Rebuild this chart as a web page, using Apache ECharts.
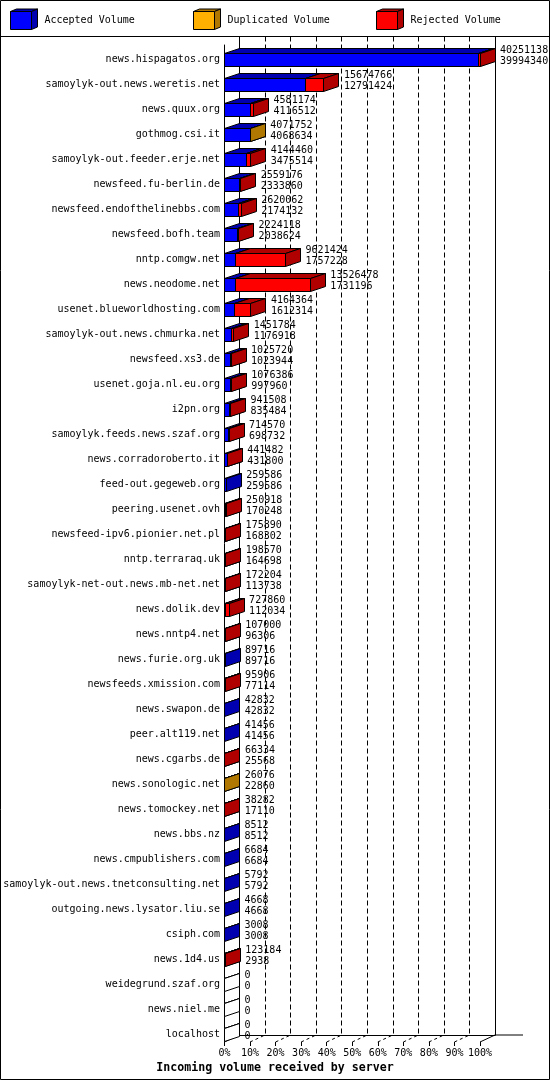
<!DOCTYPE html>
<html><head><meta charset="utf-8">
<script src="https://cdn.jsdelivr.net/npm/echarts@6/dist/echarts.min.js"></script>
<style>html,body{margin:0;padding:0;background:#fff}#c{width:550px;height:1080px}</style>
</head><body><div id="c"></div>
<script>
const servers = [
  'news.hispagatos.org','samoylyk-out.news.weretis.net','news.quux.org','gothmog.csi.it',
  'samoylyk-out.feeder.erje.net','newsfeed.fu-berlin.de','newsfeed.endofthelinebbs.com','newsfeed.bofh.team',
  'nntp.comgw.net','news.neodome.net','usenet.blueworldhosting.com','samoylyk-out.news.chmurka.net',
  'newsfeed.xs3.de','usenet.goja.nl.eu.org','i2pn.org','samoylyk.feeds.news.szaf.org',
  'news.corradoroberto.it','feed-out.gegeweb.org','peering.usenet.ovh','newsfeed-ipv6.pionier.net.pl',
  'nntp.terraraq.uk','samoylyk-net-out.news.mb-net.net','news.dolik.dev','news.nntp4.net',
  'news.furie.org.uk','newsfeeds.xmission.com','news.swapon.de','peer.alt119.net',
  'news.cgarbs.de','news.sonologic.net','news.tomockey.net','news.bbs.nz',
  'news.cmpublishers.com','samoylyk-out.news.tnetconsulting.net','outgoing.news.lysator.liu.se','csiph.com',
  'news.1d4.us','weidegrund.szaf.org','news.niel.me','localhost'
];
const totalVolume = [
  40251138,15674766,4581174,4071752,4144460,2559176,2620062,2224118,
  9621424,13526478,4164364,1451784,1025720,1076386,941508,714570,
  441482,259586,250918,175890,198570,172204,727860,107000,
  89716,95906,42832,41456,66334,26076,38282,8512,
  6684,5792,4668,3008,123184,0,0,0
];
const acceptedVolume = [
  39994340,12791424,4116512,4068634,3475514,2333860,2174132,2038624,
  1757228,1731196,1612314,1176918,1023944,997960,835484,698732,
  431800,259586,170248,168302,164698,113738,112034,96306,
  89716,77114,42832,41456,25568,22860,17110,8512,
  6684,5792,4668,3008,2938,0,0,0
];
const duplicatedVolume = [
  0,0,0,3118,0,0,0,0,
  0,0,0,0,0,0,0,0,
  0,0,0,0,0,0,0,0,
  0,0,0,0,0,3216,0,0,
  0,0,0,0,0,0,0,0
];
const rejectedVolume = [
  256798,2883342,464662,0,668946,225316,445930,185494,
  7864196,11795282,2552050,274866,1776,78426,106024,15838,
  9682,0,80670,7588,33872,58466,615826,10694,
  0,18792,0,0,40766,0,21172,0,
  0,0,0,0,120246,0,0,0
];
const percentTicks = [0,10,20,30,40,50,60,70,80,90,100];
const legendNames = ['Accepted Volume','Duplicated Volume','Rejected Volume'];

const FRONT = ['#0000ff','#ffb000','#ff0000'];
const DARK = ['#0000b0','#b07800','#b00000'];
const FONT = '"DejaVu Sans Mono", monospace';
const DX = 15, DY = 5, BH = 13;
const snap = (v) => Math.round(v - 0.5) + 0.5;

function box(x0, x1, top, h, front, dark, dx, dy) {
  const st = (f) => ({fill: f, stroke: '#000', lineWidth: 1});
  return {type: 'group', children: [
    {type: 'rect', shape: {x: x0, y: top, width: x1 - x0, height: h}, style: st(front)},
    {type: 'polygon', shape: {points: [[x0, top], [x1, top], [x1 + dx, top - dy], [x0 + dx, top - dy]]}, style: st(dark)},
    {type: 'polygon', shape: {points: [[x1, top], [x1 + dx, top - dy], [x1 + dx, top - dy + h], [x1, top + h]]}, style: st(dark)}
  ]};
}

function renderBars(params, api) {
  const i = api.value(0);
  const segs = [api.value(1), api.value(2), api.value(3)];
  const tot = api.value(4);
  const base = api.coord([0, i]);
  const yc = base[1];
  const top = snap(yc - 6);
  const children = [];
  let cum = 0, any = false;
  for (let k = 0; k < 3; k++) {
    if (segs[k] <= 0) continue;
    const x0 = snap(api.coord([cum, i])[0]);
    cum += segs[k];
    const x1 = snap(api.coord([cum, i])[0]);
    children.push(box(x0, x1, top, BH, FRONT[k], DARK[k], DX, DY));
    any = true;
  }
  if (!any) children.push(box(snap(base[0]), snap(base[0]), top, BH, '#fff', '#fff', DX, DY));
  const xEnd = api.coord([tot, i])[0];
  children.push({type: 'text', style: {
    x: xEnd + DX + 5, y: yc - 3, text: String(tot) + '\n' + String(api.value(5)),
    fill: '#000', font: '10px ' + FONT, verticalAlign: 'middle', align: 'left', lineHeight: 11
  }});
  return {type: 'group', children};
}

function renderFloor(params, api) {
  const v = api.value(0);
  const p = api.coord([v, 0]);
  const solid = (v === percentTicks[0] || v === percentTicks[percentTicks.length - 1]);
  const children = [{type: 'line', shape: {x1: p[0], y1: p[1], x2: p[0] + DX, y2: p[1] - 7},
    style: {stroke: '#000', lineWidth: 1, lineDash: solid ? null : [3, 3]}}];
  if (v === percentTicks[percentTicks.length - 1]) {
    children.push({type: 'line', shape: {x1: p[0] + DX, y1: p[1] - 7, x2: p[0] + DX + 28, y2: p[1] - 7},
      style: {stroke: '#000', lineWidth: 1}});
  }
  return {type: 'group', children};
}

const barData = servers.map((s, i) => [i, acceptedVolume[i], duplicatedVolume[i], rejectedVolume[i], totalVolume[i], acceptedVolume[i]]);

// legend graphics
const legendX = [10.5, 193.5, 376.5];
const legendGraphics = [];
legendNames.forEach((name, k) => {
  const x = legendX[k];
  legendGraphics.push(box(x, x + 21, 11.5, 18, FRONT[k], DARK[k], 6, 2.5));
  legendGraphics.push({type: 'text', style: {x: x + 34, y: 20.5, text: name, fill: '#000', font: '10px ' + FONT, verticalAlign: 'middle'}});
});

const chart = echarts.init(document.getElementById('c'), null, {renderer: 'canvas'});
chart.setOption({
  animation: false,
  backgroundColor: '#fff',
  title: {text: 'Incoming volume received by server', left: 'center', top: 1057,
    textStyle: {fontFamily: FONT, fontSize: 11.6, fontWeight: 'bold', color: '#000'}},
  grid: [
    {left: 224.5, top: 46.5, width: 255.5, height: 1000},
    {left: 224.5, top: 45, width: 255.5, height: 997},
    {left: 239.5, top: 36.5, width: 255.5, height: 998.5}
  ],
  xAxis: [
    {gridIndex: 0, type: 'value', min: 0, max: Math.max(...totalVolume), show: false},
    {gridIndex: 1, type: 'value', min: 0, max: 100, interval: 10,
      axisLine: {show: false}, axisTick: {show: true, length: 4, lineStyle: {color: '#000'}},
      axisLabel: {formatter: '{value}%', fontFamily: FONT, fontSize: 10, color: '#000', margin: 6},
      splitLine: {show: false}},
    {gridIndex: 2, type: 'value', min: 0, max: 100, interval: 10,
      axisLine: {show: true, lineStyle: {color: '#000'}}, axisTick: {show: false}, axisLabel: {show: false},
      splitLine: {show: true, lineStyle: {color: '#000', type: [5, 3]}}}
  ],
  yAxis: [
    {gridIndex: 0, type: 'category', data: servers, inverse: true,
      axisLine: {show: false}, axisTick: {show: false}, splitLine: {show: false},
      axisLabel: {fontFamily: FONT, fontSize: 10, color: '#000', margin: 4.5, interval: 0}},
    {gridIndex: 1, type: 'value', min: 0, max: 1,
      axisLine: {show: true, lineStyle: {color: '#000'}}, axisTick: {show: false}, axisLabel: {show: false}, splitLine: {show: false}},
    {gridIndex: 2, type: 'value', min: 0, max: 1, position: 'left',
      axisLine: {show: true, lineStyle: {color: '#000'}}, axisTick: {show: false}, axisLabel: {show: false}, splitLine: {show: false}},
    {gridIndex: 2, type: 'value', min: 0, max: 1, position: 'right',
      axisLine: {show: true, lineStyle: {color: '#000'}}, axisTick: {show: false}, axisLabel: {show: false}, splitLine: {show: false}}
  ],
  series: [
    {type: 'custom', xAxisIndex: 1, yAxisIndex: 1, data: percentTicks.map(v => [v, 0]),
      renderItem: renderFloor, clip: false, silent: true, encode: {x: 0, y: 1}},
    {type: 'custom', xAxisIndex: 0, yAxisIndex: 0, data: barData,
      renderItem: renderBars, clip: false, silent: true, encode: {x: 4, y: 0}}
  ],
  graphic: [
    {type: 'rect', shape: {x: 0.5, y: 0.5, width: 549, height: 1079}, style: {fill: 'none', stroke: '#000', lineWidth: 1}, z: 100},
    {type: 'line', shape: {x1: 0, y1: 36.5, x2: 550, y2: 36.5}, style: {stroke: '#000', lineWidth: 1}},
    ...legendGraphics
  ]
});
</script></body></html>
